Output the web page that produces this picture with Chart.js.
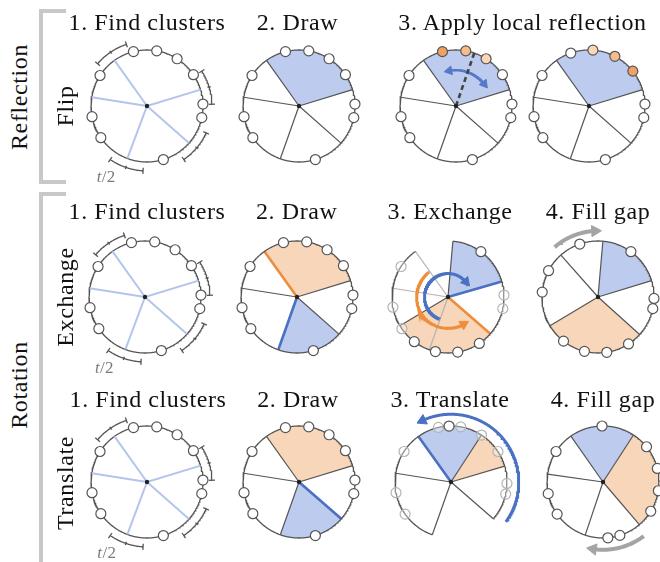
<!DOCTYPE html>
<html><head><meta charset="utf-8">
<script src="https://cdn.jsdelivr.net/npm/chart.js"></script>
<style>
html,body{margin:0;padding:0;background:#fff;}
#stage{position:relative;width:660px;height:562px;overflow:hidden;background:#fff;}
.lbl{position:absolute;font-family:"Liberation Serif","Times New Roman",serif;font-size:24px;letter-spacing:0.6px;color:#111;white-space:nowrap;transform:translate(-50%,-50%);line-height:1;}
.vlbl{transform:translate(-50%,-50%) rotate(-90deg);}
.half{font-size:17px;letter-spacing:0.3px;color:#7a7a7a;}
.brk{position:absolute;border:4px solid #c8c8c8;border-right:none;box-sizing:content-box;}
</style></head><body><div id="stage"></div>
<script>
// ---------- text ----------
const titlesRow1 = ["1. Find clusters", "2. Draw", "3. Apply local reflection"];
const titlesRow2 = ["1. Find clusters", "2. Draw", "3. Exchange", "4. Fill gap"];
const titlesRow3 = ["1. Find clusters", "2. Draw", "3. Translate", "4. Fill gap"];
const groupLabels = ["Reflection", "Rotation"];
const methodLabels = ["Flip", "Exchange", "Translate"];
const bracketLabel = "<i>t</i>/2";

// ---------- values (angles in degrees, counter-clockwise from 3 o'clock) ----------
const nodeAngles      = [104, 80, 57.5, 34, 2, -12, -73, 214.5, 191, 147];
const clusterCuts     = [125.5, 171, 249.5, 318.5, 17];
const bracketCentres  = [124, 17, -40, 251];
const bracketHalfSpan = 15.5;

const drawCuts        = [125.5, 171, 250.5, 318.5, 17];
const flipWedge       = [17, 125.5];
const flipAxis        = 71;
const flipShadeBefore = [3, 2, 1, 0, 0, 0, 0, 0, 0, 0];
const flipNodesAfter  = [109, 86, 62.5, 38.5, 2, -12, -73, 214.5, 191, 147];
const flipShadeAfter  = [0, 1, 2, 3, 0, 0, 0, 0, 0, 0];
const flipSwing       = [30, 109];

const exDrawOrange    = [17, 125.5];
const exDrawBlue      = [250.5, 318.5];
const exBlue          = [16, 85];
const exOrange        = [211, 319];
const exOutline       = [125.5, 445];
const exFaintCuts     = [125.5, 171, 250.5];
const exCuts          = [85, 211];
const exMovedNodes    = [54, -56, -80, -103, -127];
const exStillNodes    = [147, 190.5, 214.5, 2, -12];
const exBlueTurn      = [249, 27];
const exOrangeTurn    = [127, 310];

const gapACuts        = [17, 85, 131.5, 211, 318];
const gapABlue        = [17, 85];
const gapAOrange      = [211, 318];
const gapANodes       = [109, 152, 175, 54, -1.5, -12, -57, -81, -104, -128];
const gapATurn        = [131, 87];

const trDrawOrange    = [17, 125];
const trDrawBlue      = [250.5, 319];
const trOrange        = [16.5, 57];
const trBlue          = [57, 125.5];
const trCuts          = [16.5, 57, 171, 250.5, 319];
const trOutline       = [-41, 250.5];
const trStillNodes    = [103, 80, 57, 33, -1.5, -12.5, 147, 191, 215];
const trMovedNodes    = [92];
const trTurn          = [-36, 120];

const gapBCuts        = [57, 125, 172, 251.5, 310.5];
const gapBBlue        = [57, 125];
const gapBOrange      = [-49.5, 57];
const gapBNodes       = [91, 147, 192, 215, 39, 14, -9, -31.5, -72.5, -85];
const gapBTurn        = [-53, -104];

// ---------- styles & layout ----------
const INK = '#555555', FAINT = '#b4b4b4', CLUSTER = '#b3c5eb';
const BLUE_FILL = '#bccbee', ORANGE_FILL = '#f8d6b9';
const BLUE = '#4a71c2', ORANGE = '#ee8d3b', GREY = '#a4a4a4';
const SHADES = ['#ffffff', '#fbd7b7', '#f6bd8c', '#f0a163'];
const U = 56, SIZE = 170, S = SIZE / 2 / U;

const stage = document.getElementById('stage');
function addText(html, x, y, cls) {
  const d = document.createElement('div');
  d.className = 'lbl ' + (cls || '');
  d.innerHTML = html;
  d.style.left = x + 'px'; d.style.top = y + 'px';
  stage.appendChild(d);
}
function addBracket(left, top, w, h, noBottom) {
  const d = document.createElement('div');
  d.className = 'brk';
  d.style.left = left + 'px'; d.style.top = top + 'px';
  d.style.width = w + 'px'; d.style.height = h + 'px';
  if (noBottom) d.style.borderBottom = 'none';
  stage.appendChild(d);
}

const at = (a, r) => ({x: r * Math.cos(a * Math.PI / 180), y: r * Math.sin(a * Math.PI / 180)});
function arcData(a1, a2, r) {
  const n = Math.max(2, Math.ceil(Math.abs(a2 - a1)));
  const d = [];
  for (let i = 0; i <= n; i++) d.push(at(a1 + (a2 - a1) * i / n, r));
  return d;
}
const O = {x: 0, y: 0};
const line = (data, color, width, extra) => Object.assign({data, showLine: true, fill: false, borderColor: color,
  backgroundColor: 'transparent', borderWidth: width, pointRadius: 0, tension: 0}, extra || {});
const wedge = (w, color) => ({data: [O, ...arcData(w[0], w[1], 1), O], showLine: true, fill: 'shape',
  backgroundColor: color, borderColor: 'rgba(0,0,0,0)', borderWidth: 0, pointRadius: 0, tension: 0});
const spoke = (a, color, width, extra) => line([O, at(a, 1)], color, width, extra);
const ring = (a1, a2, r, color, width) => line(arcData(a1, a2, r), color, width);
const nodes = (angles, fills, border) => ({data: angles.map(a => at(a, 1)), showLine: false, pointRadius: 5,
  pointBackgroundColor: fills, pointBorderColor: border, pointBorderWidth: 1.2});
const hub = () => ({data: [O], showLine: false, pointRadius: 2.2, pointBackgroundColor: '#222', pointBorderWidth: 0});
function arrow(range, r, color, width, head, both) {
  const [a1, a2] = range, dir = Math.sign(a2 - a1);
  const back = head / (r * U) * 180 / Math.PI;
  const e2 = a2 - dir * back, e1 = both ? a1 + dir * back : a1;
  const out = [line(arcData(e1, e2, r), color, width)];
  const heads = [{a: e2, phi: e2 + dir * 90}];
  if (both) heads.push({a: e1, phi: e1 - dir * 90});
  heads.forEach(h => out.push({data: [at(h.a, r)], showLine: false, pointStyle: 'triangle', pointRadius: head,
    pointRotation: 90 - h.phi, pointBackgroundColor: color, pointBorderColor: color, pointBorderWidth: 1}));
  return out;
}

function makePanel(cx, cy, datasets) {
  const cv = document.createElement('canvas');
  cv.width = SIZE; cv.height = SIZE;
  cv.style.cssText = `position:absolute;left:${cx - SIZE / 2}px;top:${cy - SIZE / 2}px;width:${SIZE}px;height:${SIZE}px;`;
  stage.appendChild(cv);
  datasets.forEach((d, i) => { d.order = -i; d.clip = false; });
  new Chart(cv, {
    type: 'scatter',
    data: {datasets},
    options: {
      responsive: false, animation: false, events: [], devicePixelRatio: 1,
      layout: {padding: 0, autoPadding: false},
      plugins: {legend: {display: false}, tooltip: {enabled: false}, title: {display: false}},
      scales: {
        x: {type: 'linear', min: -S, max: S, display: false},
        y: {type: 'linear', min: -S, max: S, display: false}
      }
    }
  });
}

// ----- panel builders -----
function clusterPanel() {
  const L = [ring(0, 360, 1, INK, 1.3)];
  clusterCuts.forEach(a => L.push(spoke(a, CLUSTER, 2)));
  bracketCentres.forEach(c => {
    const a1 = c - bracketHalfSpan, a2 = c + bracketHalfSpan;
    L.push(ring(a1, a2, 1.16, INK, 1.3));
    [a1, a2].forEach(a => L.push(line([at(a, 1.105), at(a, 1.215)], INK, 1.3)));
    L.push(line([at(c, 1.13), at(c, 1.19)], INK, 1.3));
  });
  L.push(nodes(nodeAngles, '#fff', INK));
  L.push(hub());
  return L;
}
function flipDraw() {
  const L = [wedge(flipWedge, BLUE_FILL)];
  drawCuts.forEach(a => L.push(spoke(a, INK, 1.2)));
  L.push(ring(0, 360, 1, INK, 1.3));
  L.push(nodes(nodeAngles, '#fff', INK));
  L.push(hub());
  return L;
}
function flipApply() {
  const L = [wedge(flipWedge, BLUE_FILL)];
  drawCuts.forEach(a => L.push(spoke(a, INK, 1.2)));
  L.push(ring(0, 360, 1, INK, 1.3));
  L.push(...arrow(flipSwing, 0.64, '#5578c8', 2.5, 5, true));
  L.push(spoke(flipAxis, '#444', 2.6, {borderDash: [5, 3.5]}));
  L.push(nodes(nodeAngles, flipShadeBefore.map(s => SHADES[s]), INK));
  L.push(hub());
  return L;
}
function flipAfter() {
  const L = [wedge(flipWedge, BLUE_FILL)];
  drawCuts.forEach(a => L.push(spoke(a, INK, 1.2)));
  L.push(ring(0, 360, 1, INK, 1.3));
  L.push(nodes(flipNodesAfter, flipShadeAfter.map(s => SHADES[s]), INK));
  L.push(hub());
  return L;
}
function exDraw() {
  const L = [wedge(exDrawOrange, ORANGE_FILL), wedge(exDrawBlue, BLUE_FILL)];
  drawCuts.forEach(a => L.push(spoke(a, INK, 1.2)));
  L.push(spoke(exDrawOrange[1], ORANGE, 2.6));
  L.push(spoke(exDrawBlue[0], BLUE, 2.6));
  L.push(ring(0, 360, 1, INK, 1.3));
  L.push(nodes(nodeAngles, '#fff', INK));
  L.push(hub());
  return L;
}
function exchange() {
  const L = [wedge(exBlue, BLUE_FILL), wedge(exOrange, ORANGE_FILL)];
  exFaintCuts.forEach(a => L.push(spoke(a, FAINT, 1.2)));
  exCuts.forEach(a => L.push(spoke(a, INK, 1.2)));
  L.push(spoke(exBlue[0], BLUE, 2.6));
  L.push(spoke(exOrange[1], ORANGE, 2.6));
  L.push(ring(exOutline[0], exOutline[1], 1, INK, 1.3));
  L.push(...arrow(exBlueTurn, 0.42, BLUE, 3, 5.5));
  L.push(...arrow(exOrangeTurn, 0.56, ORANGE, 3, 5.5));
  L.push(nodes(exStillNodes, 'rgba(255,255,255,0.35)', FAINT));
  L.push(nodes(exMovedNodes, '#fff', INK));
  L.push(hub());
  return L;
}
function gapA() {
  const L = [wedge(gapABlue, BLUE_FILL), wedge(gapAOrange, ORANGE_FILL)];
  gapACuts.forEach(a => L.push(spoke(a, INK, 1.2)));
  L.push(ring(0, 360, 1, INK, 1.3));
  L.push(...arrow(gapATurn, 1.18, GREY, 4, 6.5));
  L.push(nodes(gapANodes, '#fff', INK));
  L.push(hub());
  return L;
}
function trDraw() {
  const L = [wedge(trDrawOrange, ORANGE_FILL), wedge(trDrawBlue, BLUE_FILL)];
  drawCuts.forEach(a => L.push(spoke(a, INK, 1.2)));
  L.push(spoke(trDrawBlue[1], BLUE, 2.6));
  L.push(ring(0, 360, 1, INK, 1.3));
  L.push(nodes(nodeAngles, '#fff', INK));
  L.push(hub());
  return L;
}
function translate() {
  const L = [wedge(trOrange, ORANGE_FILL), wedge(trBlue, BLUE_FILL)];
  trCuts.forEach(a => L.push(spoke(a, INK, 1.2)));
  L.push(spoke(trBlue[1], BLUE, 2.6));
  L.push(ring(trOutline[0], trOutline[1], 1, INK, 1.3));
  L.push(...arrow(trTurn, 1.21, BLUE, 3, 6));
  L.push(nodes(trStillNodes, 'rgba(255,255,255,0.35)', FAINT));
  L.push(nodes(trMovedNodes, '#fff', INK));
  L.push(hub());
  return L;
}
function gapB() {
  const L = [wedge(gapBBlue, BLUE_FILL), wedge(gapBOrange, ORANGE_FILL)];
  gapBCuts.forEach(a => L.push(spoke(a, INK, 1.2)));
  L.push(ring(0, 360, 1, INK, 1.3));
  L.push(...arrow(gapBTurn, 1.21, GREY, 4, 6.5));
  L.push(nodes(gapBNodes, '#fff', INK));
  L.push(hub());
  return L;
}

// ----- layout -----
const rowY = [106, 296.7, 482];
const panelX = [[146.7, 299, 456, 589.3], [145, 296.7, 448.3, 598.3], [147.3, 299.3, 451, 603.3]];
const builders = [[clusterPanel, flipDraw, flipApply, flipAfter],
                  [clusterPanel, exDraw, exchange, gapA],
                  [clusterPanel, trDraw, translate, gapB]];

addBracket(39, 9, 23, 167, false);
addBracket(39, 192, 23, 400, true);

builders.forEach((row, r) => row.forEach((fn, c) => makePanel(panelX[r][c], rowY[r], fn())));

const titleY = [22, 211, 398.5];
const titleX = [[147, 297.5, 522.5], [147, 296.7, 450, 598], [148, 298, 450, 603]];
[titlesRow1, titlesRow2, titlesRow3].forEach((row, r) => row.forEach((t, c) => addText(t, titleX[r][c], titleY[r])));

addText(groupLabels[0], 18.5, 96.5, 'vlbl');
addText(groupLabels[1], 18.5, 385, 'vlbl');
addText(methodLabels[0], 65, 106, 'vlbl');
addText(methodLabels[1], 65, 296.5, 'vlbl');
addText(methodLabels[2], 65, 482.5, 'vlbl');
rowY.forEach((y, r) => addText(bracketLabel, panelX[r][0] - 40.5, y + 70, 'half'));
</script></body></html>
